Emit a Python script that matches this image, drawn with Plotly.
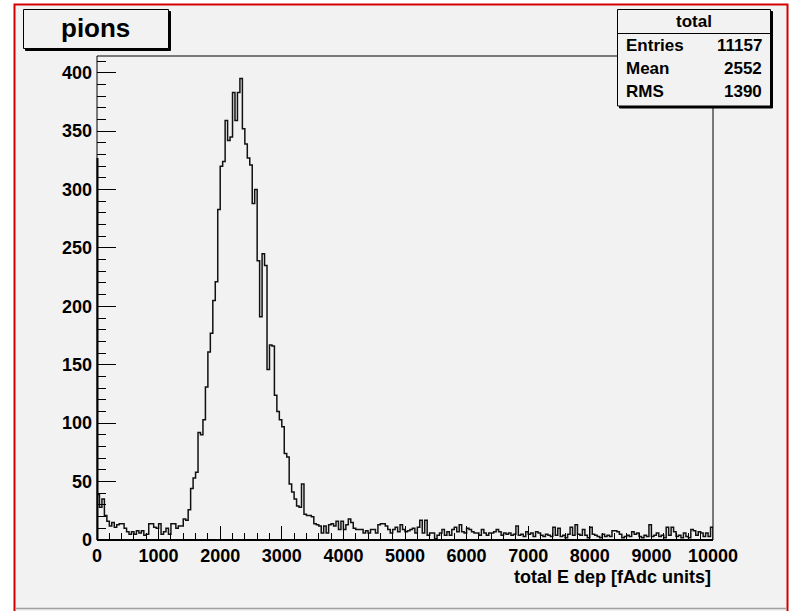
import numpy as np
import plotly.graph_objects as go

# ---------------- data ----------------
x_min, x_max, n_bins = 0, 10000, 250
counts = [
    39, 28, 35, 21, 16, 12, 15, 11, 13, 14,
    14, 10, 7, 5, 7, 5, 8, 6, 8, 4,
    5, 14, 14, 11, 10, 14, 5, 7, 10, 5,
    14, 14, 10, 12, 12, 18, 17, 26, 44, 53,
    58, 92, 90, 103, 131, 161, 177, 205, 221, 283,
    320, 324, 359, 342, 345, 383, 359, 383, 395, 352,
    339, 327, 321, 288, 300, 239, 191, 245, 235, 146,
    167, 166, 124, 110, 103, 97, 74, 71, 48, 41,
    35, 29, 28, 48, 22, 21, 21, 20, 14, 13,
    12, 6, 12, 6, 13, 14, 12, 16, 9, 16,
    9, 13, 18, 15, 10, 9, 9, 9, 6, 8,
    6, 9, 9, 6, 13, 14, 14, 12, 9, 6,
    9, 11, 7, 13, 9, 7, 8, 9, 10, 6,
    11, 17, 6, 17, 4, 6, 6, 1, 4, 6,
    9, 4, 7, 4, 9, 11, 7, 13, 7, 6,
    10, 9, 7, 6, 6, 4, 9, 6, 4, 6,
    6, 7, 9, 7, 4, 6, 5, 6, 4, 5,
    12, 4, 5, 3, 7, 5, 6, 3, 7, 6,
    4, 3, 5, 4, 3, 11, 4, 10, 3, 4,
    2, 5, 11, 4, 13, 5, 4, 9, 4, 2,
    11, 5, 4, 3, 2, 5, 3, 4, 3, 8,
    8, 7, 5, 2, 3, 4, 3, 7, 5, 6,
    3, 2, 4, 3, 13, 3, 4, 6, 3, 4,
    2, 11, 4, 11, 7, 3, 4, 2, 6, 3,
    2, 9, 8, 4, 7, 6, 3, 6, 3, 11,
]
x_tick_vals = [0, 1000, 2000, 3000, 4000, 5000, 6000, 7000, 8000, 9000, 10000]
x_tick_text = ["0", "1000", "2000", "3000", "4000", "5000", "6000", "7000", "8000", "9000", "10000"]
y_tick_vals = [0, 50, 100, 150, 200, 250, 300, 350, 400]
y_tick_text = ["0", "50", "100", "150", "200", "250", "300", "350", "400"]
title_text = "pions"
stats_name = "total"
stats_labels = ["Entries", "Mean", "RMS"]
stats_values = ["11157", "2552", "1390"]
x_title = "total E dep [fAdc units]"
y_max = 414.3

# ---------------- geometry ----------------
W, H = 791, 611
L, R, T, B = 97, 713, 56, 540


def px(x):
    return (x - L) / (R - L)


def py(y):
    return (B - y) / (B - T)


edges = np.linspace(x_min, x_max, n_bins + 1)
xs = [x_min] + list(edges[:-1]) + [x_max, x_max]
ys = [0] + list(counts) + [counts[-1], 0]

fig = go.Figure()
fig.add_trace(go.Scatter(
    x=xs, y=ys, mode="lines", line=dict(shape="hv", color="#111111", width=1.5),
    hoverinfo="skip", showlegend=False,
))

FONT = "Liberation Sans, Arial, Helvetica, sans-serif"

shapes = []
# outer pad: red border on light grey
shapes.append(dict(type="rect", xref="paper", yref="paper", layer="below",
                   x0=px(14.5), x1=px(787.5), y0=py(4.5), y1=py(620),
                   line=dict(color="#d40000", width=2), fillcolor="#f2f2f2"))
shapes.append(dict(type="line", xref="paper", yref="paper", layer="below",
                   x0=px(15.5), x1=px(786.5), y0=py(608.5), y1=py(608.5),
                   line=dict(color="#a0a0a0", width=1.5)))
# frame
shapes.append(dict(type="rect", xref="paper", yref="paper", layer="above",
                   x0=0, x1=1, y0=0, y1=1, line=dict(color="black", width=1)))
shapes.append(dict(type="line", xref="paper", yref="paper", layer="above",
                   x0=px(97.5), x1=px(97.5), y0=py(540), y1=py(158),
                   line=dict(color="black", width=2)))
shapes.append(dict(type="line", xref="paper", yref="paper", layer="above",
                   x0=px(97), x1=px(713), y0=py(540), y1=py(540),
                   line=dict(color="black", width=1.8)))
# title box with shadow
shapes.append(dict(type="rect", xref="paper", yref="paper", layer="above",
                   x0=px(25.5), x1=px(170.5), y0=py(11.5), y1=py(50.5),
                   line=dict(color="black", width=1), fillcolor="black"))
shapes.append(dict(type="rect", xref="paper", yref="paper", layer="above",
                   x0=px(23.5), x1=px(168.5), y0=py(9.5), y1=py(48.5),
                   line=dict(color="black", width=1), fillcolor="#f2f2f2"))
# stats box with shadow
shapes.append(dict(type="rect", xref="paper", yref="paper", layer="above",
                   x0=px(619.5), x1=px(772.5), y0=py(11.5), y1=py(108),
                   line=dict(color="black", width=1), fillcolor="black"))
shapes.append(dict(type="rect", xref="paper", yref="paper", layer="above",
                   x0=px(617.5), x1=px(770.5), y0=py(9.5), y1=py(106),
                   line=dict(color="black", width=1), fillcolor="#f2f2f2"))
shapes.append(dict(type="line", xref="paper", yref="paper", layer="above",
                   x0=px(617.5), x1=px(770.5), y0=py(33.5), y1=py(33.5),
                   line=dict(color="black", width=1)))

annotations = []
annotations.append(dict(xref="paper", yref="paper", x=px(95.5), y=py(28),
                        text="<b>%s</b>" % title_text, showarrow=False,
                        xanchor="center", yanchor="middle",
                        font=dict(family=FONT, size=26, color="black")))
annotations.append(dict(xref="paper", yref="paper", x=px(694), y=py(22),
                        text="<b>%s</b>" % stats_name, showarrow=False,
                        xanchor="center", yanchor="middle",
                        font=dict(family=FONT, size=17, color="black")))
row_y = [46, 69, 92]
for lab, val, yy in zip(stats_labels, stats_values, row_y):
    annotations.append(dict(xref="paper", yref="paper", x=px(624), y=py(yy),
                            text="<b>%s</b>" % lab, showarrow=False,
                            xanchor="left", yanchor="middle",
                            font=dict(family=FONT, size=17, color="black")))
    annotations.append(dict(xref="paper", yref="paper", x=px(764), y=py(yy),
                            text="<b>%s</b>" % val, showarrow=False,
                            xanchor="right", yanchor="middle",
                            font=dict(family=FONT, size=17, color="black")))
annotations.append(dict(xref="paper", yref="paper", x=px(713), y=py(577),
                        text="<b>%s</b>" % x_title, showarrow=False,
                        xanchor="right", yanchor="middle",
                        font=dict(family=FONT, size=18, color="black")))

fig.update_layout(
    width=W, height=H, autosize=False,
    margin=dict(l=L, r=W - R, t=T, b=H - B, pad=0),
    paper_bgcolor="white", plot_bgcolor="rgba(0,0,0,0)",
    shapes=shapes, annotations=annotations, showlegend=False,
    xaxis=dict(range=[x_min, x_max], showgrid=False, zeroline=False, automargin=False,
               showline=False, ticks="inside", ticklen=14.5, tickwidth=1,
               tickcolor="black", tickmode="array", tickvals=x_tick_vals, ticktext=x_tick_text,
               ticklabelstandoff=3,
               minor=dict(dtick=200, tick0=0, ticklen=7, ticks="inside", tickcolor="black", showgrid=False),
               tickfont=dict(family=FONT, size=18, color="black", weight="bold")),
    yaxis=dict(range=[0, y_max], showgrid=False, zeroline=False, automargin=False,
               showline=False, ticks="inside", ticklen=18.5, tickwidth=1,
               tickcolor="black", tickmode="array", tickvals=y_tick_vals, ticktext=y_tick_text,
               ticklabelstandoff=4,
               minor=dict(dtick=10, tick0=0, ticklen=9, ticks="inside", tickcolor="black", showgrid=False),
               tickfont=dict(family=FONT, size=18, color="black", weight="bold")),
)

fig.write_html("out.html", config={"displayModeBar": False, "staticPlot": True},
               post_script="document.body.style.margin='0';document.body.style.padding='0';")
